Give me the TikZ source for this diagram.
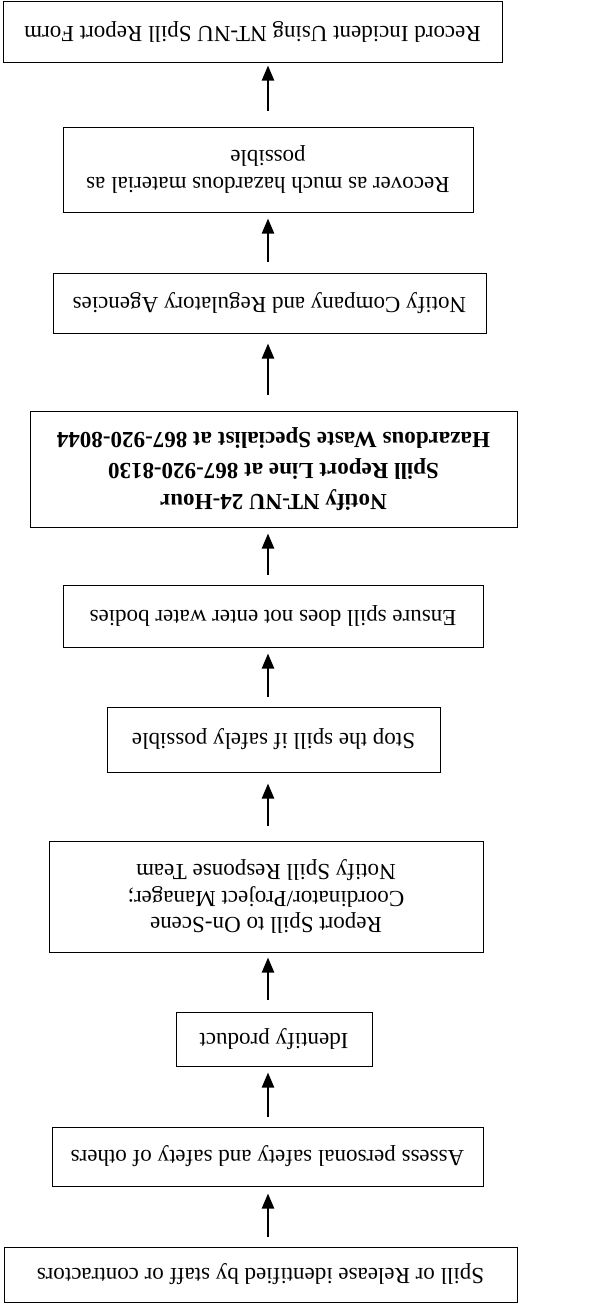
\documentclass[tikz,border=0pt]{standalone}
\usepackage{fontspec}
\setmainfont{Liberation Serif}
\usetikzlibrary{arrows.meta}
\begin{document}
\begin{tikzpicture}[x=1pt,y=-1pt,
  box/.style={draw,line width=1pt,rectangle,inner sep=0pt,align=center,rotate=180,
    font=\fontsize{23}{26.8}\selectfont},
  boldbox/.style={box,font=\bfseries\fontsize{23}{30.8}\selectfont},
  arr/.style={line width=2.2pt,-{Triangle[width=12pt,length=15pt]}}]
\useasboundingbox (0,0) rectangle (605,1310);
% boxes are rotated by 180 degrees: their "south" is the image top edge
\node[box,minimum width=499pt,minimum height=61pt] (rec) at (252.5,31.5)
  {Record Incident Using NT-NU Spill Report Form};
\node[box,minimum width=410pt,minimum height=85pt] (recov) at (268,169.5)
  {Recover as much hazardous material as\\possible};
\node[box,minimum width=433pt,minimum height=60pt] (nco) at (269.5,303)
  {Notify Company and Regulatory Agencies};
\node[boldbox,minimum width=487pt,minimum height=116pt] (ntnu) at (273.5,469)
  {Notify NT-NU 24-Hour\\Spill Report Line at 867-920-8130\\Hazardous Waste Specialist at 867-920-8044};
\node[box,minimum width=420pt,minimum height=62pt] (ens) at (273,616)
  {Ensure spill does not enter water bodies};
\node[box,minimum width=333pt,minimum height=65pt] (stop) at (273.5,739.5)
  {Stop the spill if safely possible};
\node[box,minimum width=434pt,minimum height=111pt] (rep) at (266,896.5)
  {Report Spill to On-Scene\\Coordinator/Project Manager;\\Notify Spill Response Team};
\node[box,minimum width=196pt,minimum height=54pt] (idf) at (274,1039)
  {Identify product};
\node[box,minimum width=431pt,minimum height=59pt] (ass) at (267.5,1156.5)
  {Assess personal safety and safety of others};
\node[box,minimum width=513pt,minimum height=55pt] (spill) at (260.5,1274.5)
  {Spill or Release identified by staff or contractors};
\coordinate (ax) at (268,0);
\draw[arr,shorten <=16pt,shorten >=3pt] (recov.south -| ax) -- (rec.north -| ax);
\draw[arr,shorten <=11pt,shorten >=6pt] (nco.south -| ax) -- (recov.north -| ax);
\draw[arr,shorten <=16pt,shorten >=10pt] (ntnu.south -| ax) -- (nco.north -| ax);
\draw[arr,shorten <=10pt,shorten >=6pt] (ens.south -| ax) -- (ntnu.north -| ax);
\draw[arr,shorten <=10pt,shorten >=6pt] (stop.south -| ax) -- (ens.north -| ax);
\draw[arr,shorten <=15pt,shorten >=11pt] (rep.south -| ax) -- (stop.north -| ax);
\draw[arr,shorten <=12pt,shorten >=5pt] (idf.south -| ax) -- (rep.north -| ax);
\draw[arr,shorten <=10pt,shorten >=6pt] (ass.south -| ax) -- (idf.north -| ax);
\draw[arr,shorten <=10pt,shorten >=7pt] (spill.south -| ax) -- (ass.north -| ax);
\end{tikzpicture}
\end{document}
